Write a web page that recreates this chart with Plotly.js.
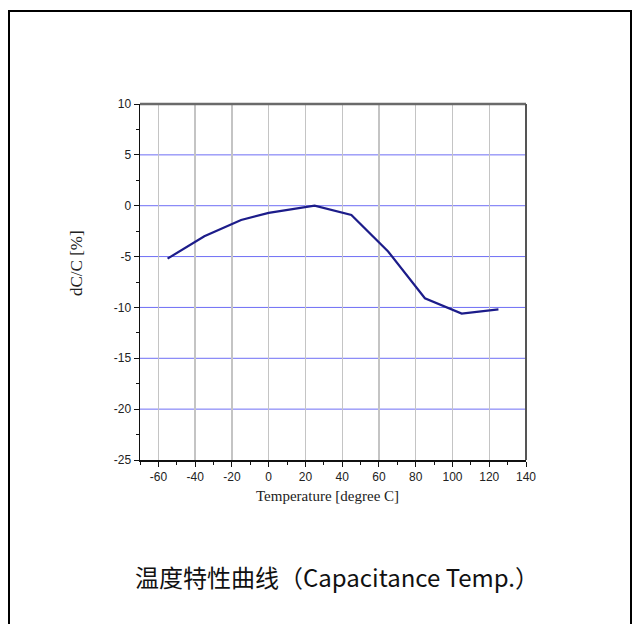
<!DOCTYPE html>
<html>
<head>
<meta charset="utf-8">
<script src="https://cdn.plot.ly/plotly-3.0.1.min.js"></script>
<style>html,body{margin:0;padding:0;background:#fff;}#chart{width:635px;height:624px;}</style>
</head>
<body>
<div id="chart"></div>
<script>
const temperature = [-55, -35, -15, 0, 25, 45, 65, 85, 105, 125];
const dcPercent = [-5.2, -3.0, -1.4, -0.7, 0.0, -0.9, -4.5, -9.1, -10.6, -10.2];
const xTicks = [-60, -40, -20, 0, 20, 40, 60, 80, 100, 120, 140];
const yTicks = [10, 5, 0, -5, -10, -15, -20, -25];
const xTitle = 'Temperature [degree C]';
const yTitle = 'dC/C [%]';
const caption = '温度特性曲线（Capacitance Temp.）';

const tickFont = {family: 'Liberation Sans, Arial, sans-serif', size: 12, color: '#222'};
const titleFont = {family: 'Liberation Serif, Times New Roman, serif', size: 15, color: '#222'};

// plot area in pixels: left 140, right 526, top 104, bottom 460
const PL = 140, PR = 526, PT = 104, PB = 460;
const px = v => (v - PL) / (PR - PL);
const py = v => (PB - v) / (PB - PT);

const trace = {
  x: temperature, y: dcPercent, type: 'scatter', mode: 'lines',
  line: {color: '#1c1c8a', width: 2.2}, hoverinfo: 'skip'
};

// horizontal blue grid lines drawn at the y tick values (inner ones only)
const hGrid = yTicks.filter(v => v < 10 && v > -25).map(v => ({
  type: 'line', xref: 'paper', yref: 'y', x0: 0, x1: 1, y0: v, y1: v,
  line: {color: '#6e6ef5', width: 1}, layer: 'below'
}));

const layout = {
  width: 635, height: 624,
  margin: {l: PL, r: 635 - PR, t: PT, b: 624 - PB},
  paper_bgcolor: '#fff', plot_bgcolor: '#fff',
  showlegend: false,
  xaxis: {
    range: [-70, 140], tickvals: xTicks, ticktext: xTicks.map(String),
    showgrid: true, gridcolor: '#c4c4c4', gridwidth: 1.3,
    zeroline: false, showline: true, linecolor: '#111', linewidth: 1.5,
    ticks: 'outside', ticklen: 5, tickcolor: '#111', tickwidth: 1,
    minor: {dtick: 10, tick0: -70, ticks: 'outside', ticklen: 3, tickcolor: '#111', showgrid: false},
    tickfont: tickFont
  },
  yaxis: {
    range: [-25, 10], tickvals: yTicks, ticktext: yTicks.map(String),
    showgrid: false,
    zeroline: false, showline: true, linecolor: '#111', linewidth: 1.5,
    ticks: 'outside', ticklen: 5, tickcolor: '#111', tickwidth: 1,
    minor: {dtick: 2.5, tick0: -25, ticks: 'outside', ticklen: 3, tickcolor: '#111', showgrid: false},
    tickfont: tickFont
  },
  shapes: hGrid.concat([
    {type: 'line', xref: 'paper', yref: 'paper', x0: 0, x1: 1, y0: 1, y1: 1, line: {color: '#6a6a6a', width: 2.5}},
    {type: 'line', xref: 'paper', yref: 'paper', x0: 1, x1: 1, y0: 0, y1: 1, line: {color: '#555', width: 2}},
    {type: 'rect', xref: 'paper', yref: 'paper', x0: px(9), x1: px(631), y0: py(640), y1: py(11), line: {color: '#000', width: 2}, fillcolor: 'rgba(0,0,0,0)', layer: 'below'}
  ]),
  annotations: [
    {text: xTitle, xref: 'paper', yref: 'paper', x: px(327), y: py(496), xanchor: 'center', yanchor: 'middle', showarrow: false, font: titleFont},
    {text: yTitle, xref: 'paper', yref: 'paper', x: px(76), y: py(263), xanchor: 'center', yanchor: 'middle', textangle: -90, showarrow: false,
     font: {family: titleFont.family, size: 17, color: '#222'}},
    {text: caption, xref: 'paper', yref: 'paper', x: px(337), y: py(576), xanchor: 'center', yanchor: 'middle', showarrow: false,
     font: {family: 'Noto Sans CJK SC, Noto Sans, sans-serif', size: 24, color: '#111'}}
  ]
};

Plotly.newPlot('chart', [trace], layout, {displayModeBar: false, staticPlot: true});
</script>
</body>
</html>
